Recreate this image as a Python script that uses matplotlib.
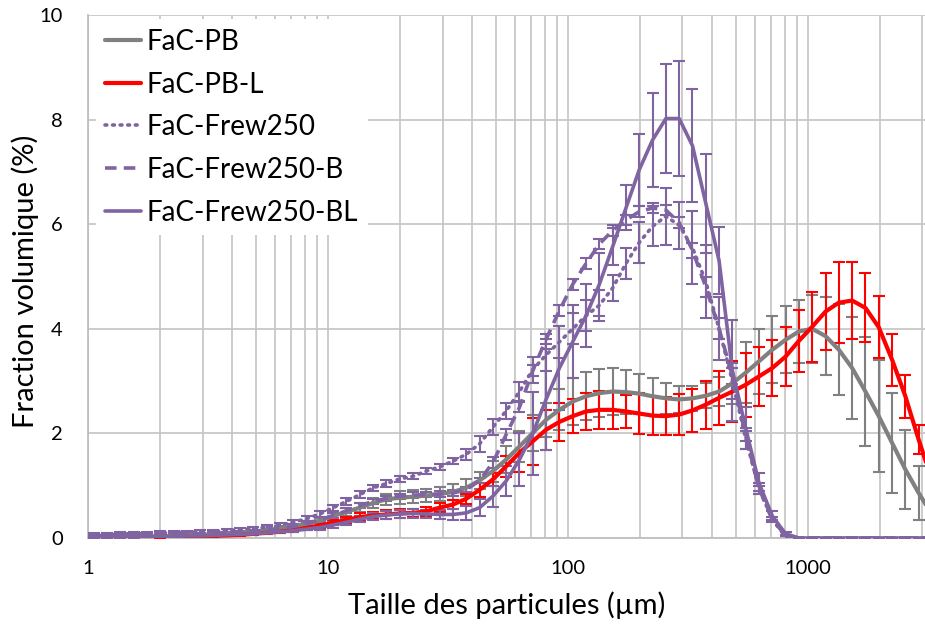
import matplotlib
matplotlib.use("Agg")
import matplotlib.pyplot as plt
from matplotlib.ticker import LogLocator, FixedLocator, FixedFormatter, NullFormatter

plt.rcParams['font.family'] = ['Lato', 'DejaVu Sans']

# Particle size (µm) - class centres
size_um = [0.929, 1.056, 1.200, 1.363, 1.548, 1.760, 2.000, 2.272, 2.581, 2.932, 3.332,
           3.785, 4.300, 4.887, 5.552, 6.307, 7.168, 8.142, 9.252, 10.51, 11.94,
           13.57, 15.42, 17.51, 19.90, 22.61, 25.69, 29.19, 33.16, 37.68, 42.81,
           48.64, 55.26, 62.79, 71.34, 81.05, 92.09, 104.6, 118.9, 135.1, 153.5,
           174.4, 198.1, 225.1, 255.8, 290.6, 330.2, 375.1, 426.2, 484.2, 550.2,
           625.1, 710.2, 806.9, 916.7, 1041.6, 1183.4, 1344.5, 1527.6, 1735.5, 1971.8,
           2240.3, 2545.3, 2892.0, 3285.8]

pb = [0.01, 0.01, 0.01, 0.02, 0.02, 0.03, 0.03, 0.04, 0.05, 0.06, 0.07,
      0.08, 0.10, 0.12, 0.15, 0.18, 0.22, 0.27, 0.33, 0.42, 0.50,
      0.58, 0.67, 0.74, 0.77, 0.79, 0.81, 0.84, 0.88, 0.96, 1.10,
      1.28, 1.50, 1.75, 2.01, 2.26, 2.45, 2.61, 2.71, 2.77, 2.80,
      2.79, 2.76, 2.71, 2.67, 2.65, 2.67, 2.72, 2.80, 2.96, 3.16,
      3.38, 3.60, 3.79, 3.95, 4.00, 3.86, 3.60, 3.25, 2.80, 2.33,
      1.82, 1.31, 0.86, 0.45]
pb_err = [0.0, 0.0, 0.0, 0.0, 0.01, 0.01, 0.01, 0.01, 0.01, 0.02, 0.02,
          0.02, 0.02, 0.03, 0.03, 0.04, 0.04, 0.05, 0.06, 0.07, 0.08,
          0.09, 0.10, 0.11, 0.12, 0.12, 0.13, 0.14, 0.15, 0.16, 0.16,
          0.20, 0.25, 0.29, 0.35, 0.33, 0.39, 0.44, 0.46, 0.46, 0.45,
          0.42, 0.38, 0.35, 0.30, 0.26, 0.24, 0.24, 0.28, 0.40, 0.58,
          0.62, 0.64, 0.64, 0.61, 0.65, 0.75, 0.87, 0.97, 1.05, 1.07,
          0.96, 0.75, 0.52, 0.35]

pbl = [0.0, 0.0, 0.0, 0.0, 0.01, 0.01, 0.01, 0.02, 0.02, 0.03, 0.04,
       0.05, 0.06, 0.08, 0.10, 0.12, 0.15, 0.19, 0.24, 0.29, 0.35,
       0.40, 0.43, 0.45, 0.47, 0.48, 0.51, 0.58, 0.64, 0.75, 0.92,
       1.12, 1.37, 1.63, 1.85, 2.07, 2.22, 2.33, 2.42, 2.45, 2.45,
       2.42, 2.38, 2.34, 2.33, 2.36, 2.44, 2.55, 2.68, 2.80, 2.93,
       3.09, 3.25, 3.47, 3.77, 4.04, 4.33, 4.50, 4.54, 4.40, 4.03,
       3.41, 2.71, 1.88, 1.10]
pbl_err = [0.0, 0.0, 0.0, 0.0, 0.0, 0.0, 0.01, 0.01, 0.01, 0.01, 0.02,
           0.02, 0.02, 0.02, 0.03, 0.03, 0.03, 0.04, 0.04, 0.05, 0.06,
           0.07, 0.07, 0.08, 0.08, 0.08, 0.08, 0.08, 0.09, 0.10, 0.13,
           0.13, 0.20, 0.37, 0.45, 0.38, 0.37, 0.33, 0.35, 0.37, 0.37,
           0.32, 0.40, 0.38, 0.37, 0.40, 0.41, 0.46, 0.51, 0.58, 0.61,
           0.57, 0.54, 0.56, 0.59, 0.67, 0.73, 0.77, 0.73, 0.66, 0.59,
           0.50, 0.41, 0.28, 0.20]

frew = [0.07, 0.07, 0.07, 0.08, 0.08, 0.09, 0.10, 0.10, 0.11, 0.12, 0.13,
        0.14, 0.16, 0.18, 0.21, 0.25, 0.30, 0.37, 0.46, 0.58, 0.70,
        0.83, 0.96, 1.04, 1.13, 1.18, 1.28, 1.36, 1.47, 1.60, 1.80,
        2.12, 2.43, 2.80, 3.22, 3.50, 3.75, 4.00, 4.25, 4.45, 4.78,
        5.25, 5.65, 5.96, 6.15, 5.98, 5.55, 4.90, 4.00, 3.00, 1.90,
        0.95, 0.35, 0.03, 0.0, 0.0, 0.0, 0.0, 0.0, 0.0, 0.0,
        0.0, 0.0, 0.0, 0.0]
frew_err = [0.03, 0.03, 0.03, 0.03, 0.03, 0.03, 0.03, 0.03, 0.03, 0.03, 0.03,
            0.03, 0.03, 0.03, 0.04, 0.04, 0.04, 0.05, 0.06, 0.06, 0.06,
            0.06, 0.06, 0.06, 0.06, 0.06, 0.06, 0.06, 0.06, 0.10, 0.15,
            0.15, 0.15, 0.18, 0.25, 0.30, 0.30, 0.30, 0.30, 0.30, 0.25,
            0.30, 0.40, 0.38, 0.55, 0.45, 0.70, 0.70, 0.60, 0.35, 0.20,
            0.10, 0.05, 0.0, 0.0, 0.0, 0.0, 0.0, 0.0, 0.0, 0.0,
            0.0, 0.0, 0.0, 0.0]

frew_b = [0.05, 0.05, 0.05, 0.05, 0.06, 0.06, 0.07, 0.07, 0.08, 0.08, 0.09,
          0.10, 0.11, 0.13, 0.15, 0.18, 0.22, 0.28, 0.35, 0.43, 0.52,
          0.62, 0.70, 0.76, 0.80, 0.82, 0.83, 0.84, 0.86, 0.92, 1.10,
          1.44, 1.98, 2.50, 3.20, 3.80, 4.35, 4.85, 5.25, 5.62, 5.88,
          6.08, 6.24, 6.31, 6.27, 6.03, 5.50, 4.80, 4.00, 3.10, 1.95,
          0.95, 0.35, 0.05, 0.0, 0.0, 0.0, 0.0, 0.0, 0.0, 0.0,
          0.0, 0.0, 0.0, 0.0]
frew_b_err = [0.02, 0.02, 0.02, 0.02, 0.02, 0.02, 0.02, 0.02, 0.02, 0.02, 0.02,
              0.02, 0.02, 0.02, 0.02, 0.02, 0.02, 0.02, 0.05, 0.05, 0.05,
              0.05, 0.05, 0.05, 0.05, 0.05, 0.05, 0.05, 0.05, 0.05, 0.05,
              0.10, 0.10, 0.10, 0.10, 0.10, 0.10, 0.10, 0.10, 0.10, 0.10,
              0.10, 0.10, 0.10, 0.10, 0.10, 0.15, 0.20, 0.20, 0.15, 0.10,
              0.05, 0.0, 0.0, 0.0, 0.0, 0.0, 0.0, 0.0, 0.0, 0.0,
              0.0, 0.0, 0.0, 0.0]

frew_bl = [0.02, 0.02, 0.02, 0.02, 0.02, 0.03, 0.03, 0.03, 0.04, 0.04, 0.05,
           0.06, 0.07, 0.08, 0.10, 0.12, 0.14, 0.17, 0.20, 0.25, 0.30,
           0.36, 0.41, 0.44, 0.46, 0.47, 0.46, 0.45, 0.45, 0.48, 0.58,
           0.80, 1.09, 1.50, 2.00, 2.65, 3.25, 3.75, 4.25, 4.85, 5.57,
           6.31, 7.04, 7.61, 8.02, 8.02, 7.50, 6.40, 5.30, 3.20, 2.10,
           1.05, 0.42, 0.08, 0.0, 0.0, 0.0, 0.0, 0.0, 0.0, 0.0,
           0.0, 0.0, 0.0, 0.0]
frew_bl_err = [0.02, 0.02, 0.02, 0.02, 0.02, 0.02, 0.02, 0.02, 0.02, 0.02, 0.02,
               0.02, 0.02, 0.02, 0.02, 0.02, 0.02, 0.02, 0.05, 0.05, 0.06,
               0.06, 0.07, 0.07, 0.08, 0.08, 0.08, 0.08, 0.10, 0.13, 0.16,
               0.20, 0.29, 0.50, 0.80, 0.97, 0.80, 0.70, 0.60, 0.60, 0.35,
               0.43, 0.69, 0.90, 1.05, 1.10, 1.08, 0.95, 0.64, 0.97, 0.40,
               0.20, 0.10, 0.03, 0.0, 0.0, 0.0, 0.0, 0.0, 0.0, 0.0,
               0.0, 0.0, 0.0, 0.0]

labels = ['FaC-PB', 'FaC-PB-L', 'FaC-Frew250', 'FaC-Frew250-B', 'FaC-Frew250-BL']
colors = ['#808080', '#FF0000', '#8064A2', '#8064A2', '#8064A2']
DOT = (0, (0.5, 1.6))
DASH = (0, (3.2, 2.0))
styles = ['-', '-', DOT, DASH, '-']
widths = [3.0, 3.0, 2.6, 2.6, 2.6]
x_ticks = [1, 10, 100, 1000]
x_tick_labels = ['1', '10', '100', '1000']
y_ticks = [0, 2, 4, 6, 8, 10]

fig = plt.figure(figsize=(9.25, 6.26), dpi=100)
ax = fig.add_axes([88 / 925, 88 / 626, 837 / 925, 523 / 626])

series = [(pb, pb_err), (pbl, pbl_err), (frew, frew_err), (frew_b, frew_b_err), (frew_bl, frew_bl_err)]
handles = []
for (vals, errs), lab, col, ls, lw in zip(series, labels, colors, styles, widths):
    ax.errorbar(size_um, vals, yerr=errs, fmt='none', ecolor=col, elinewidth=1.5,
                capsize=4.5, capthick=1.5, zorder=3)
    ln, = ax.plot(size_um, vals, color=col, lw=lw, linestyle=ls,
                  solid_capstyle='round', solid_joinstyle='round',
                  dash_capstyle='round' if ls is DOT else 'butt',
                  label=lab, zorder=4)
    handles.append(ln)

ax.set_xscale('log')
ax.set_xlim(1, 3073)
ax.set_ylim(0, 10)
ax.xaxis.set_major_locator(FixedLocator(x_ticks))
ax.xaxis.set_major_formatter(FixedFormatter(x_tick_labels))
ax.xaxis.set_minor_locator(LogLocator(base=10, subs=[2, 3, 4, 5, 6, 7, 8, 9], numticks=20))
ax.xaxis.set_minor_formatter(NullFormatter())
ax.set_yticks(y_ticks)
ax.set_yticklabels([str(v) for v in y_ticks])

gc = '#C8C8C8'
ax.grid(True, which='both', axis='x', color=gc, lw=1.3, zorder=0)
ax.grid(True, which='major', axis='y', color=gc, lw=1.3, zorder=0)
ax.set_axisbelow(True)
for s in ['top', 'right']:
    ax.spines[s].set_visible(False)
for s in ['left', 'bottom']:
    ax.spines[s].set_color('#BFBFBF')
    ax.spines[s].set_linewidth(1.3)

ax.tick_params(axis='both', which='both', length=0, labelsize=14.5, colors='black')
ax.tick_params(axis='x', pad=16)
ax.tick_params(axis='y', pad=18)

ax.set_xlabel('Taille des particules (µm)', fontsize=21, labelpad=10)
ax.set_ylabel('Fraction volumique (%)', fontsize=21)
ax.yaxis.set_label_coords(-0.058, 0.49)

leg = ax.legend(handles=handles, loc='upper left', bbox_to_anchor=(0.004, 1), frameon=True,
                fontsize=20, handlelength=1.3, handletextpad=0.2, labelspacing=0.6,
                borderpad=0.35, borderaxespad=0.15, fancybox=False)
leg.get_frame().set_facecolor('white')
leg.get_frame().set_edgecolor('none')
leg.get_frame().set_alpha(1)
leg.set_zorder(10)

fig.savefig('out.png', dpi=100)
